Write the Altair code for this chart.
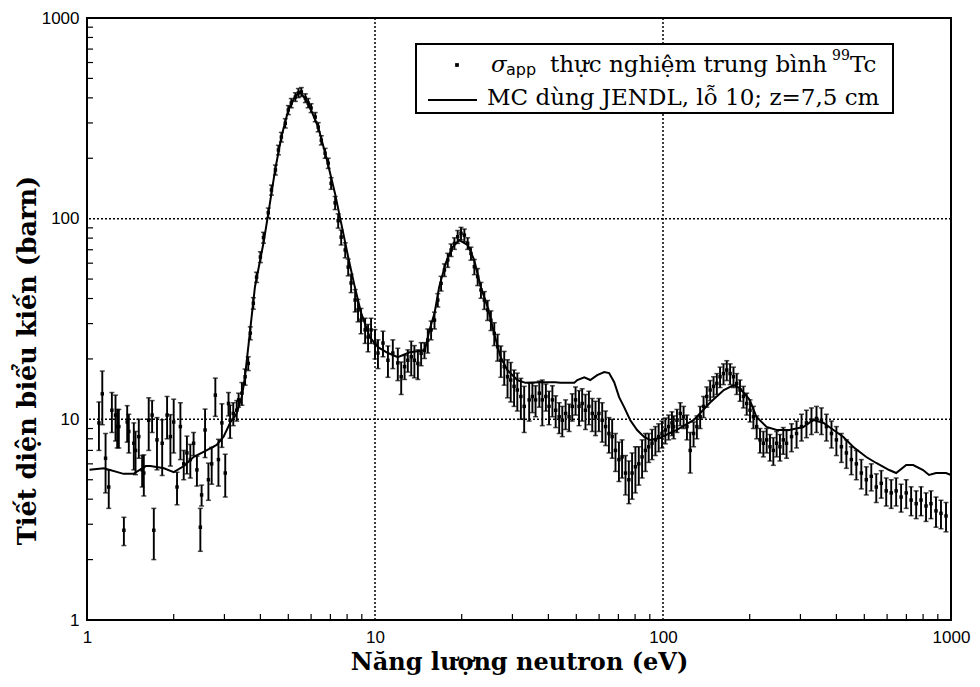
import altair as alt
import pandas as pd

# ---------------- data ----------------
exp_E = [1.10, 1.13, 1.16, 1.19, 1.22, 1.256, 1.273, 1.29, 1.343, 1.379, 1.397, 1.454, 1.474, 1.513,
         1.554, 1.575, 1.638, 1.683, 1.706, 1.75, 1.824, 1.897, 1.948, 2.0, 2.054, 2.11, 2.167, 2.223,
         2.284, 2.345, 2.408, 2.475, 2.50, 2.57, 2.64, 2.71, 2.79, 2.86, 2.94, 3.02, 3.10, 3.14, 3.22,
         3.31, 3.36, 3.45, 3.54, 3.63,
         3.69, 3.78, 3.88, 4.00, 4.10, 4.26, 4.37, 4.51, 4.62, 4.73, 4.88, 5.00, 5.12, 5.29, 5.42, 5.55,
         5.73, 5.86, 6.00, 6.20, 6.35, 6.51, 6.71, 6.88, 7.04, 7.27, 7.45, 7.63, 7.88, 8.07, 8.26, 8.53,
         8.73, 8.94, 9.24, 9.46, 9.69, 10.0, 10.24, 10.66, 11.09, 11.53, 12.0,
         12.33, 12.67, 13.0, 13.36, 13.7, 14.09, 14.46, 14.85, 15.25, 15.66, 16.09, 16.52, 16.96, 17.42,
         17.89, 18.37, 18.87, 19.37, 19.89, 20.43, 20.98, 21.54, 22.13, 22.72, 23.33, 23.97, 24.6, 25.26,
         25.95, 26.65, 27.35, 28.1, 28.85, 29.6, 30.4, 31.2, 32.1, 32.96,
         34.3, 35.2, 36.1, 37.2, 38.1, 39.2, 40.2, 41.3, 42.4, 43.6, 44.7, 45.9, 47.2, 48.4, 49.7, 51.1,
         52.4, 53.8, 55.3, 56.8, 58.3, 59.9, 61.5, 63.2, 64.9, 66.6, 68.4, 70.3, 72.1, 74.1, 76.1, 78.1,
         80.2, 82.4, 84.6, 86.9, 89.2, 91.6, 94.1, 96.6, 99.2, 101.9, 104.6, 107.4,
         108.9, 111.8, 114.8, 117.9, 121.1, 124.3, 127.7, 131.1, 134.6, 138.3, 141.9, 145.8, 149.8, 153.8,
         157.8, 162.2, 166.5, 171.0, 175.7, 180.3, 185.1, 190.2, 195.3, 200.5, 206.0, 211.5, 217.2, 223.1,
         229.1, 235.2, 241.6, 248.1, 254.7, 261.6, 268.5,
         279.5, 290.9, 302.7, 314.8, 327.7, 341.2, 354.9, 369.4, 384.6, 400, 416.3, 433.3, 450.8, 469.2,
         488.2, 508, 528.7, 550.2, 572.5, 595.7, 620, 645, 671, 699, 727, 757, 787, 819, 852, 887, 923, 961]
exp_sigma = [9.6, 13.4, 6.4, 4.6, 11.1, 10.5, 9.2, 9.2, 2.8, 9.7, 8.7, 7.6, 7.0, 8.2,
             5.6, 5.4, 9.9, 10.5, 2.8, 7.9, 7.6, 10.5, 8.2, 9.7, 4.6, 9.2, 6.0, 6.8,
             6.3, 7.6, 5.6, 2.9, 4.2, 8.85, 5.0, 6.0, 13.2, 6.3, 9.6, 5.4, 12.0, 9.9, 10.7,
             11.1, 12.5, 13.5, 16.3, 19.0,
             26.9, 37.9, 51.1, 64.4, 80.5, 107, 139, 175, 220, 255, 299, 348, 377, 404, 423, 428,
             399, 377, 356, 321, 286, 246, 212, 189, 150, 120, 97.7, 80.9, 69.8, 57.4, 47.8, 39.3,
             35.1, 31.2, 27.9, 25.7, 27.9, 24.0, 21.4, 24.0, 19.7, 21.4, 19.1,
             16.3, 18.3, 19.7, 20.5, 19.7, 19.0, 21.3, 22.1, 24.8, 27.9, 31.2, 39.3, 47.6, 55.5,
             62.2, 69.8, 75.3, 81.3, 84.5, 82.8, 75.3, 67.1, 57.6, 51.4, 44.1, 39.3, 35.1, 31.2,
             26.8, 23.0, 19.7, 18.3, 16.3, 15.7, 14.6, 14.0, 13.0, 11.6,
             12.5, 13.0, 12.5, 13.5, 12.5, 13.0, 11.6, 12.5, 11.1, 10.3, 9.9, 10.7, 10.3, 11.6, 12.5, 11.6,
             12.0, 11.1, 11.6, 10.7, 10.3, 10.7, 9.9, 9.2, 8.5, 8.2, 7.0, 6.3, 6.5, 5.4, 5.0, 5.4,
             5.8, 6.0, 6.5, 7.0, 7.3, 7.6, 7.9, 8.2, 8.5, 8.85, 9.2, 9.6,
             9.2, 9.9, 10.7, 10.3, 9.2, 7.0, 8.5, 9.2, 10.3, 11.6, 13.0, 14.0, 14.6, 15.1,
             16.3, 16.9, 17.6, 16.9, 16.3, 15.1, 14.0, 13.0, 12.0, 11.1, 10.3, 9.2, 7.9, 7.6,
             7.9, 7.3, 7.0, 7.6, 7.3, 7.9, 7.6,
             8.2, 8.5, 9.2, 9.6, 9.9, 10.1, 9.9, 9.2, 8.5, 7.9, 7.3, 6.8, 6.3, 6.0,
             5.4, 5.0, 5.2, 4.6, 4.8, 4.4, 4.3, 4.4, 4.1, 4.3, 3.96, 3.8, 3.96, 3.7, 3.8, 3.5, 3.4, 3.3]
exp_err = [2.6, 4.0, 2.1, 1.0, 2.5, 2.7, 2.0, 2.0, 0.45, 2.0, 1.9, 2.0, 1.7, 1.8,
           1.0, 1.25, 2.9, 1.9, 0.8, 2.3, 2.35, 2.5, 2.35, 2.9, 0.85, 2.9, 1.0, 1.45,
           1.2, 1.0, 0.95, 0.7, 0.5, 2.4, 1.05, 1.25, 2.85, 1.65, 2.35, 1.3, 1.6, 1.85, 1.4,
           1.3, 1.0, 1.75, 1.5, 1.5,
           2.0, 2.5, 3.0, 4.0, 5.0, 6, 8, 10, 12, 14, 16, 18, 20, 20, 22, 22,
           20, 20, 18, 17, 15, 13, 12, 11, 10, 9, 8, 7, 6, 5.5, 5, 5,
           4.5, 4.5, 4, 4, 4, 4, 3.5, 3.5, 3.5, 3.5, 3.5,
           3.0, 2.5, 2.5, 4.0, 3.6, 3.2, 2.8, 2.0, 3.4, 3.0, 3.0, 3.0, 4, 4,
           5, 5, 5, 6, 6, 6, 5, 5, 5, 5, 4, 4, 4, 3.5,
           3.5, 3.5, 3.5, 3.5, 3.5, 3.5, 3, 3, 3, 3,
           2.7, 2.2, 2.2, 2.0, 3.2, 2.0, 2.2, 2.2, 2.0, 1.8, 1.7, 1.8, 1.6, 1.8, 2.0, 2.3,
           2.2, 2.2, 2.2, 2.0, 2.0, 2.0, 2.2, 1.8, 1.7, 1.8, 1.5, 1.4, 1.4, 1.2, 1.2, 1.4,
           1.5, 1.3, 1.4, 1.5, 1.2, 1.3, 1.3, 1.3, 1.3, 1.3, 1.3, 1.3,
           1.2, 1.3, 1.4, 1.3, 1.3, 1.6, 1.2, 1.2, 1.3, 1.4, 1.5, 1.6, 1.7, 1.8,
           1.9, 2.0, 2.0, 2.0, 1.9, 1.8, 1.7, 1.6, 1.5, 1.4, 1.3, 1.2, 1.1, 1.1,
           1.1, 1.1, 1.1, 1.1, 1.1, 1.2, 1.2,
           1.3, 1.3, 1.4, 1.5, 1.5, 1.5, 1.5, 1.4, 1.3, 1.3, 1.2, 1.1, 1.0, 1.0,
           0.9, 0.8, 0.8, 0.75, 0.75, 0.7, 0.7, 0.7, 0.65, 0.7, 0.65, 0.6, 0.65, 0.6, 0.6, 0.6, 0.55, 0.55]

mc_E = [1.02, 1.145, 1.34, 1.45, 1.60, 1.66, 1.85, 2.00, 2.17, 2.35, 2.60, 2.82, 2.98, 3.15, 3.30, 3.45,
        3.54, 3.83, 4.10, 4.26, 4.50, 4.73, 5.00, 5.27, 5.49, 5.86, 6.35, 6.77, 7.26, 7.63, 8.07, 8.51,
        8.95, 9.59, 10.24, 11.09, 12.0, 13.2, 14.9, 15.46, 16.1, 16.7, 17.6, 18.6, 19.6, 20.1, 21.0,
        22.1, 23.3, 24.6, 25.9, 27.3, 28.8, 31.2, 33.3, 37.5, 42.3, 44.0, 49.2, 50.4, 53.3, 55.9, 59.1,
        62.5, 65.0, 67.7, 70.4, 73.3, 76.9, 81.3, 86.0, 90.1, 97.6, 105.7, 111.7, 128, 145.5, 162.6,
        176, 184.7, 200, 211, 229, 248, 275, 307, 333, 361, 391, 423, 458, 508, 550, 610, 645, 699,
        739, 800, 839, 887, 961, 1000]
mc_sigma = [5.6, 5.7, 5.35, 5.35, 5.85, 5.85, 5.7, 5.45, 5.85, 6.5, 7.0, 7.45, 8.2, 9.7, 10.6, 13.0,
            16.5, 45.8, 75.6, 106, 175, 255, 348, 405, 429, 377, 286, 203, 134, 95, 64.4, 45.6,
            33.9, 25.7, 22.9, 21.4, 20.4, 21.6, 22.1, 27.9, 33.9, 45.6, 60.1, 72.2, 78.2, 76.7, 73.9,
            62.2, 45.6, 36.3, 26.9, 20.4, 17.6, 15.7, 15.2, 15.3, 15.3, 15.2, 15.2, 15.7, 16.2, 15.7, 16.6,
            17.2, 17.0, 15.3, 12.9, 11.5, 9.93, 8.85, 8.17, 7.89, 8.07, 8.55, 8.85, 9.93, 12.1, 14.0,
            14.8, 14.3, 12.5, 10.3, 9.16, 8.85, 8.85, 9.16, 9.93, 9.59, 8.85, 8.17, 7.28, 6.49, 6.06, 5.59,
            5.40, 5.92, 5.92, 5.59, 5.28, 5.40, 5.40, 5.28]

axis_labels = [1, 10, 100, 1000]
grid_values = [10, 100]
minor_ticks = [2, 3, 4, 5, 6, 7, 8, 9, 20, 30, 40, 50, 60, 70, 80, 90, 200, 300, 400, 500, 600, 700, 800, 900]

legend_sigma = "σ"
legend_sub = "app"
legend_text1 = "thực nghiệm trung bình"
legend_sup = "99"
legend_elem = "Tc"
legend_text2 = "MC dùng JENDL, lỗ 10; z=7,5 cm"
x_title = "Năng lượng neutron (eV)"
y_title = "Tiết diện biểu kiến (barn)"

# ---------------- chart ----------------
W, H = 864, 602
SERIF = "DejaVu Serif"

exp = pd.DataFrame({"E": exp_E, "s": exp_sigma, "err": exp_err})
exp["lo"] = exp["s"] - exp["err"]
exp["hi"] = exp["s"] + exp["err"]
mc = pd.DataFrame({"E": mc_E, "s": mc_sigma})
grid_df = pd.DataFrame({"v": grid_values})
minor_df = pd.DataFrame({"v": minor_ticks})
one = pd.DataFrame({"k": [0]})

xs = alt.Scale(type="log", domain=[1, 1000], nice=False)
ys = alt.Scale(type="log", domain=[1, 1000], nice=False)

x_axis = alt.Axis(values=axis_labels, format=".0f", grid=False, ticks=False, domain=False,
                  labelFont="Liberation Sans", labelFontSize=17, labelColor="black", labelPadding=9,
                  labelFlush=False, labelOverlap=False,
                  title=x_title, titleFont=SERIF, titleFontSize=24, titleFontWeight="bold",
                  titleColor="black", titlePadding=5)
y_axis = alt.Axis(values=axis_labels, format=".0f", grid=False, ticks=False, domain=False,
                  labelFont="Liberation Sans", labelFontSize=17, labelColor="black", labelPadding=8,
                  labelFlush=False, labelOverlap=False,
                  title=y_title, titleFont=SERIF, titleFontSize=25.5, titleFontWeight="bold",
                  titleColor="black", titleX=-60, titleY=342, titleAngle=-90,
                  titleAlign="center", titleBaseline="middle")


def X(field):
    return alt.X(field, scale=xs, axis=x_axis)


def Y(field):
    return alt.Y(field, scale=ys, axis=y_axis)


base_exp = alt.Chart(exp)

bars = base_exp.mark_rule(color="black", strokeWidth=1.9).encode(
    x=X("E:Q"), y=Y("lo:Q"), y2="hi:Q")
caps_hi = base_exp.mark_tick(color="black", thickness=1.5, size=5, orient="horizontal").encode(
    x=X("E:Q"), y=Y("hi:Q"))
caps_lo = base_exp.mark_tick(color="black", thickness=1.5, size=5, orient="horizontal").encode(
    x=X("E:Q"), y=Y("lo:Q"))
pts = base_exp.mark_square(color="black", size=12, opacity=1).encode(x=X("E:Q"), y=Y("s:Q"))

line = alt.Chart(mc).mark_line(color="black", strokeWidth=2).encode(x=X("E:Q"), y=Y("s:Q"))

gx = alt.Chart(grid_df).mark_rule(color="black", strokeWidth=1.5, strokeDash=[2, 2]).encode(
    x=X("v:Q"))
gy = alt.Chart(grid_df).mark_rule(color="black", strokeWidth=1.5, strokeDash=[2, 2]).encode(
    y=Y("v:Q"))

tx = alt.Chart(minor_df).mark_rule(color="black", strokeWidth=1.2).encode(
    x=X("v:Q"), y=alt.value(H), y2=alt.value(H - 6))
ty = alt.Chart(minor_df).mark_rule(color="black", strokeWidth=1.2).encode(
    y=Y("v:Q"), x=alt.value(0), x2=alt.value(6))

# legend (drawn as annotation)
leg = alt.Chart(one)
box = leg.mark_rect(fill="white", stroke="black", strokeWidth=2).encode(
    x=alt.value(329), x2=alt.value(806), y=alt.value(26), y2=alt.value(95))
dot = leg.mark_square(color="black", size=14, opacity=1).encode(x=alt.value(370), y=alt.value(47))
t_sigma = leg.mark_text(text=legend_sigma, font=SERIF, fontSize=23, fontStyle="italic",
                        align="left", baseline="alphabetic", color="black").encode(
    x=alt.value(404), y=alt.value(54))
t_sub = leg.mark_text(text=legend_sub, font="DejaVu Sans", fontSize=16,
                      align="left", baseline="alphabetic", color="black").encode(
    x=alt.value(419), y=alt.value(57))
t_1 = leg.mark_text(text=legend_text1, font=SERIF, fontSize=23,
                    align="left", baseline="alphabetic", color="black").encode(
    x=alt.value(463), y=alt.value(54))
t_sup = leg.mark_text(text=legend_sup, font=SERIF, fontSize=14,
                      align="left", baseline="alphabetic", color="black").encode(
    x=alt.value(745), y=alt.value(42))
t_el = leg.mark_text(text=legend_elem, font=SERIF, fontSize=23,
                     align="left", baseline="alphabetic", color="black").encode(
    x=alt.value(763), y=alt.value(54))
leg_line = leg.mark_rule(color="black", strokeWidth=2).encode(
    x=alt.value(341), x2=alt.value(390), y=alt.value(82))
t_2 = leg.mark_text(text=legend_text2, font=SERIF, fontSize=23,
                    align="left", baseline="alphabetic", color="black").encode(
    x=alt.value(400), y=alt.value(87))

chart = alt.layer(
    bars, gx, gy, tx, ty, caps_hi, caps_lo, pts, line,
    box, dot, t_sigma, t_sub, t_1, t_sup, t_el, leg_line, t_2
).properties(
    width=W, height=H,
    autosize=alt.AutoSizeParams(type="none"),
    padding={"left": 79, "top": 10, "right": 21, "bottom": 59},
    background="white",
).configure_view(stroke="black", strokeWidth=2)

chart.save("out.html", embed_options={"renderer": "svg", "actions": False})
